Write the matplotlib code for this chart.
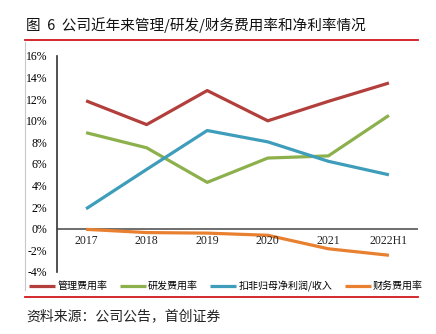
import matplotlib
matplotlib.use("Agg")
import matplotlib.pyplot as plt
from matplotlib.lines import Line2D

plt.rcParams['font.family'] = ['Noto Sans CJK SC', 'DejaVu Sans']

years = ['2017', '2018', '2019', '2020', '2021', '2022H1']
mgmt = [11.85, 9.65, 12.8, 10.0, 11.8, 13.5]        # 管理费用率
rnd = [8.9, 7.5, 4.3, 6.55, 6.75, 10.5]             # 研发费用率
net = [1.85, 5.5, 9.1, 8.05, 6.25, 5.0]             # 扣非归母净利润/收入
fin = [-0.05, -0.35, -0.4, -0.6, -1.85, -2.45]      # 财务费用率
names = ['管理费用率', '研发费用率', '扣非归母净利润/收入', '财务费用率']
colors = ['#B23F3C', '#8CB04B', '#3D9DBA', '#E8802F']
yticks = list(range(-4, 17, 2))

fig = plt.figure(figsize=(4.36, 3.34), dpi=100)
red = '#D0181C'

# title and frame lines
fig.text(26 / 436, 1 - 25 / 334, '图  6  公司近年来管理/研发/财务费用率和净利率情况',
         fontsize=10.5, va='center', ha='left', color='#111111')
fig.add_artist(Line2D([25 / 436, 418 / 436], [1 - 40 / 334] * 2, color=red, lw=1.3))
fig.add_artist(Line2D([25 / 436, 418 / 436], [1 - 297 / 334] * 2, color=red, lw=1.3))
fig.add_artist(Line2D([25 / 436] * 2, [1 - 42 / 334, 1 - 290 / 334], color='#C8C8C8', lw=0.8))
fig.text(26 / 436, 1 - 316 / 334, '资料来源：公司公告，首创证券', fontsize=10,
         va='center', ha='left', color='#222222', style='italic')

ax = fig.add_axes([57 / 436, 1 - 272 / 334, (418 - 57) / 436, (272 - 56) / 334])
x = range(len(years))
for vals, name, c in zip([mgmt, rnd, net, fin], names, colors):
    ax.plot(x, vals, color=c, lw=2.3, label=name, solid_capstyle='butt')

ax.set_xlim(-0.48, 5.48)
ax.set_ylim(-4, 16)
ax.set_yticks(yticks)
ax.set_yticklabels([f'{v}%' for v in yticks], family='Liberation Serif', fontsize=8.5)
ax.set_xticks([])
ax.tick_params(axis='y', length=0, pad=7)
for s in ['top', 'right', 'bottom']:
    ax.spines[s].set_visible(False)
ax.spines['left'].set_color('#333333')
ax.spines['left'].set_linewidth(1.2)
ax.axhline(0, color='#555555', lw=1.2, zorder=1)

for i, yr in enumerate(years):
    ax.text(i, -0.55, yr, ha='center', va='top', fontsize=8.5,
            family='Liberation Serif', color='#222222')

fig.legend(loc='center', bbox_to_anchor=(226 / 436, 1 - 286 / 334), ncol=4,
           frameon=False, fontsize=7.2, handlelength=2.6, handletextpad=0.2,
           columnspacing=1.25, borderaxespad=0)

fig.savefig('out.png', dpi=100)
